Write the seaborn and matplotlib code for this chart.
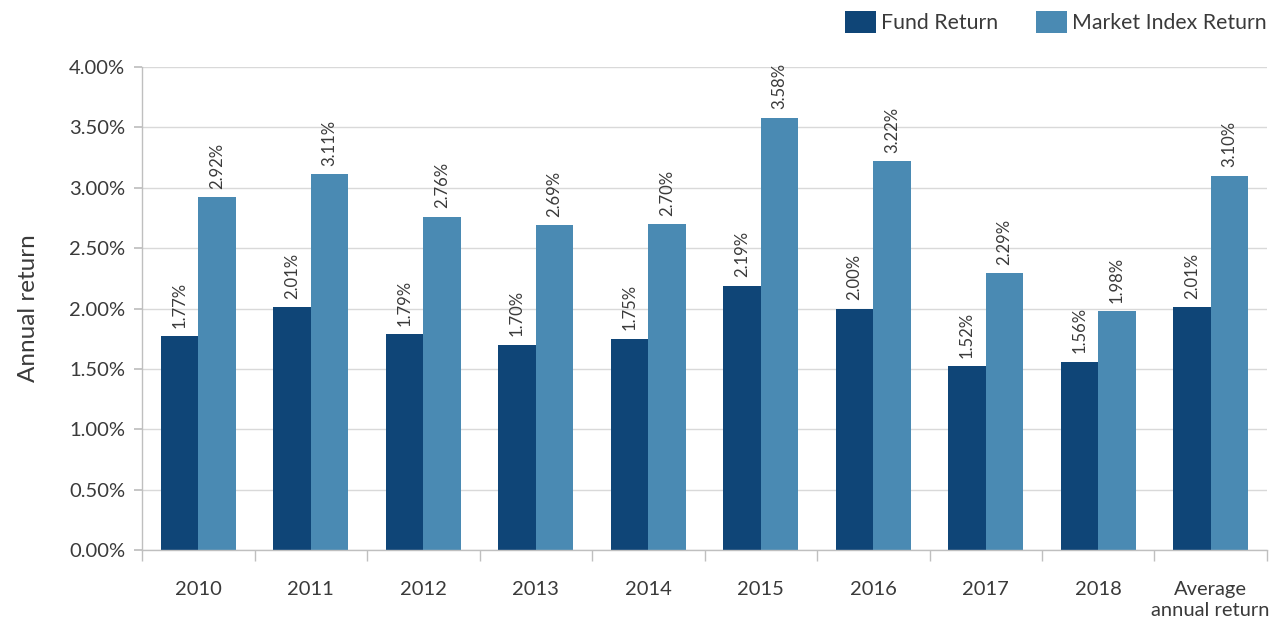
import pandas as pd
import matplotlib
matplotlib.use("Agg")
import matplotlib.pyplot as plt
import seaborn as sns
from matplotlib.ticker import FuncFormatter, FixedLocator

# data (percent)
periods = ['2010', '2011', '2012', '2013', '2014', '2015', '2016', '2017', '2018',
           'Average\nannual return']
fund_return = [1.77, 2.01, 1.79, 1.70, 1.75, 2.19, 2.00, 1.52, 1.56, 2.01]
market_return = [2.92, 3.11, 2.76, 2.69, 2.70, 3.58, 3.22, 2.29, 1.98, 3.10]
series_names = ['Fund Return', 'Market Index Return']

df = pd.DataFrame({
    'period': periods * 2,
    'value': fund_return + market_return,
    'series': [series_names[0]] * len(periods) + [series_names[1]] * len(periods),
})

sns.set_theme(style='white')
plt.rcParams['font.family'] = ['Lato', 'DejaVu Sans']
text_color = '#3A3A3A'

fig = plt.figure(figsize=(12.74, 6.2), dpi=100)
ax = fig.add_axes([0.1115, 0.1129, 0.8830, 0.7790])

sns.barplot(data=df, x='period', y='value', hue='series', ax=ax,
            palette=['#0F4577', '#4A8AB3'], saturation=1, width=0.667, gap=0,
            linewidth=0)

for cont in ax.containers:
    ax.bar_label(cont, fmt='%.2f%%', rotation=90, padding=6, fontsize=12,
                 color=text_color)

ax.set_ylim(0, 4.0)
ax.set_xlim(-0.5, len(periods) - 0.5)
ax.set_yticks([i * 0.5 for i in range(9)])
ax.yaxis.set_major_formatter(FuncFormatter(lambda v, p: f'{v:.2f}%'))
ax.grid(axis='y', color='#D9D9D9', linewidth=1)
ax.set_axisbelow(True)

for s in ['top', 'right']:
    ax.spines[s].set_visible(False)
for s in ['left', 'bottom']:
    ax.spines[s].set_color('#BFBFBF')
    ax.spines[s].set_linewidth(1)

ax.tick_params(axis='y', labelsize=14.5, colors=text_color, length=6, color='#BFBFBF',
               left=True, pad=6)
ax.tick_params(axis='x', labelsize=14.5, colors=text_color, length=0, pad=22)
for lbl in ax.get_xticklabels():
    lbl.set_linespacing(1.35)
ax.xaxis.set_minor_locator(FixedLocator([i - 0.5 for i in range(len(periods) + 1)]))
ax.tick_params(axis='x', which='minor', length=8, color='#BFBFBF', bottom=True)

ax.set_xlabel('')
ax.set_ylabel('Annual return', fontsize=17.5, color=text_color, labelpad=22)

ax.legend(loc='center right', bbox_to_anchor=(1.0, 1.093), ncol=2, frameon=False,
          fontsize=15.3, handlelength=1.45, handleheight=1.25, columnspacing=1.8,
          handletextpad=0.25, borderaxespad=0, borderpad=0, labelcolor=text_color)

fig.savefig('out.png', dpi=100)
